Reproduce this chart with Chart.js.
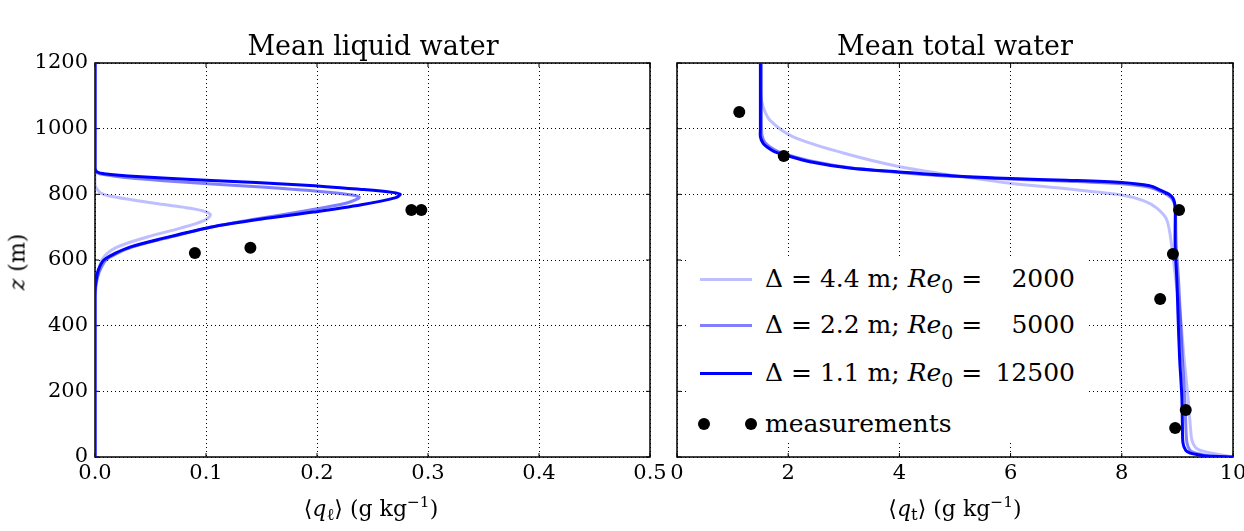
<!DOCTYPE html>
<html>
<head>
<meta charset="utf-8">
<script src="https://cdn.jsdelivr.net/npm/chart.js@4/dist/chart.umd.min.js"></script>
<style>
  body { margin: 0; background: #fff; overflow: hidden; font-family: "DejaVu Serif", serif; color: #000; }
  #wrap { position: relative; width: 1244px; height: 531px; }
  canvas { position: absolute; top: 0; }
  .txt { position: absolute; white-space: nowrap; transform: translate(-50%, -50%); }
  .title { font-size: 27px; }
  .axlab { font-size: 22px; }
  sub { font-size: 75%; vertical-align: -0.3em; line-height: 0; }
  sup { font-size: 70%; vertical-align: 0.55em; line-height: 0; }
  #legend { position: absolute; left: 688px; top: 258px; width: 398px; height: 184px; background: #fff; }
  .lrow { position: absolute; left: 0; width: 398px; height: 34px; }
  .lline { position: absolute; left: 12px; width: 52px; height: 3px; top: 16px; }
  .ldot { position: absolute; width: 12px; height: 12px; border-radius: 6px; background: #000; top: 11px; }
  .ltext { position: absolute; left: 77px; width: 310px; font-size: 25px; line-height: 34px; top: 0; }
  .lnum { position: absolute; right: 0; top: 0; }
</style>
</head>
<body>
<div id="wrap">
  <canvas id="liqChart" width="680" height="531" style="left:0"></canvas>
  <canvas id="totChart" width="590" height="531" style="left:665px"></canvas>

  <div class="txt title" style="left:373px; top:45px">Mean liquid water</div>
  <div class="txt title" style="left:955px; top:45px">Mean total water</div>
  <div class="txt axlab" style="left:17px; top:262px; transform: translate(-50%, -50%) rotate(-90deg)"><i>z</i> (m)</div>
  <div class="txt axlab" style="left:371px; top:508px">⟨<i>q</i><sub>ℓ</sub>⟩ (g kg<sup>−1</sup>)</div>
  <div class="txt axlab" style="left:955px; top:508px">⟨<i>q</i><sub>t</sub>⟩ (g kg<sup>−1</sup>)</div>
  <div id="legend"></div>
</div>

<script>
// --------------------------------------------
// Profile data
// --------------------------------------------

// series labels
var gridSpacing = ['4.4', '2.2', '1.1'];
var reynolds = ['2000', '5000', '12500'];

// tick labels
var zTicks = [0, 200, 400, 600, 800, 1000, 1200];
var qlTicks = [0.0, 0.1, 0.2, 0.3, 0.4, 0.5];
var qtTicks = [0, 2, 4, 6, 8, 10];

// mean liquid water, Delta = 4.4 m
var zl44 = [0, 480, 520, 560, 600, 636, 670, 697, 720, 737, 750, 761, 772, 783, 795, 804, 815, 830, 1200];
var ql44 = [0, 0, 0.001, 0.003, 0.006, 0.018, 0.047, 0.077, 0.098, 0.104, 0.097, 0.079, 0.055, 0.034, 0.013, 0.005, 0.002, 0, 0];
// Delta = 2.2 m
var zl22 = [0, 490, 530, 565, 600, 620, 640, 665, 700, 725, 750, 772, 787, 792, 798, 808, 822, 838, 852, 860, 866, 878, 1200];
var ql22 = [0, 0, 0.001, 0.004, 0.010, 0.020, 0.034, 0.062, 0.104, 0.145, 0.190, 0.225, 0.237, 0.238, 0.232, 0.205, 0.150, 0.075, 0.025, 0.008, 0.002, 0, 0];
// Delta = 1.1 m
var zl11 = [0, 500, 540, 570, 600, 620, 640, 665, 700, 725, 746, 768, 790, 800, 806, 815, 828, 843, 856, 862, 868, 880, 1200];
var ql11 = [0, 0, 0.001, 0.003, 0.008, 0.018, 0.032, 0.060, 0.104, 0.150, 0.197, 0.240, 0.271, 0.275, 0.268, 0.240, 0.190, 0.100, 0.030, 0.010, 0.002, 0, 0];

// mean total water, Delta = 4.4 m
var zt44 = [1200, 1100, 1066, 1026, 975, 926, 884, 857, 834, 817, 798, 780, 758, 722, 640, 540, 438, 300, 183, 100, 52, 30, 21, 12, 6, 0];
var qt44 = [1.50, 1.51, 1.55, 1.67, 2.09, 2.99, 4.01, 5.00, 5.99, 7.00, 8.00, 8.40, 8.63, 8.81, 8.90, 8.97, 9.05, 9.12, 9.19, 9.23, 9.26, 9.32, 9.40, 9.60, 9.80, 10.0];
// Delta = 2.2 m
var zt22 = [1200, 1000, 978, 958, 946, 932, 921, 900, 880, 866, 854, 846, 840, 832, 822, 810, 797, 782, 760, 700, 640, 540, 438, 300, 183, 100, 45, 22, 13, 7, 3, 0];
var qt22 = [1.52, 1.52, 1.53, 1.58, 1.66, 1.80, 1.98, 2.45, 3.15, 4.05, 5.05, 6.05, 7.05, 8.00, 8.48, 8.68, 8.83, 8.92, 8.96, 8.97, 8.98, 9.02, 9.05, 9.09, 9.13, 9.15, 9.17, 9.22, 9.30, 9.45, 9.58, 10.0];
// Delta = 1.1 m
var zt11 = [1200, 1000, 975, 955, 944, 930, 920, 899, 880, 868, 856, 848, 843, 836, 826, 813, 800, 785, 761, 700, 640, 540, 438, 300, 183, 100, 43, 20, 12, 6, 3, 0];
var qt11 = [1.50, 1.50, 1.50, 1.55, 1.62, 1.75, 1.94, 2.39, 3.10, 4.00, 5.00, 6.00, 7.00, 8.00, 8.50, 8.69, 8.85, 8.93, 8.96, 8.96, 8.96, 8.99, 9.01, 9.04, 9.08, 9.09, 9.10, 9.15, 9.23, 9.40, 9.53, 10.0];

// measurements
var zlMeas = [621, 637, 752, 752];
var qlMeas = [0.090, 0.140, 0.285, 0.294];
var ztMeas = [1051, 917, 752, 618, 481, 143, 88];
var qtMeas = [1.12, 1.92, 9.03, 8.92, 8.69, 9.15, 8.96];

// styles
var seriesColors = ['rgba(0,0,255,0.25)', 'rgba(0,0,255,0.5)', '#0000ff'];
var tickFont = { family: '"DejaVu Serif", serif', size: 21 };

function toPoints(xs, ys) {
    var pts = [];
    for (var i = 0; i < xs.length; i++) {
        pts.push({ x: xs[i], y: ys[i] });
    }
    return pts;
}

function lineSet(i, xs, ys) {
    return {
        label: 'Delta = ' + gridSpacing[i] + ' m; Re0 = ' + reynolds[i],
        data: toPoints(xs, ys),
        showLine: true,
        borderColor: seriesColors[i],
        borderWidth: 3,
        pointRadius: 0,
        tension: 0.3,
        fill: false
    };
}

function measSet(xs, ys) {
    return {
        label: 'measurements',
        data: toPoints(xs, ys),
        showLine: false,
        pointRadius: 6,
        pointBackgroundColor: '#000',
        pointBorderWidth: 0
    };
}

// full box around the plot + inward ticks
var framePlugin = {
    id: 'frame',
    beforeDatasetsDraw: function(chart) {
        var a = chart.chartArea, ctx = chart.ctx;
        var xs = chart.scales.x, ys = chart.scales.y;
        ctx.save();
        ctx.strokeStyle = '#000';
        ctx.lineWidth = 1;
        ctx.beginPath();
        for (var i = 0; i < xs.ticks.length; i++) {
            var px = xs.getPixelForValue(xs.ticks[i].value);
            ctx.moveTo(px, a.bottom); ctx.lineTo(px, a.bottom - 4);
            ctx.moveTo(px, a.top); ctx.lineTo(px, a.top + 4);
        }
        for (var j = 0; j < ys.ticks.length; j++) {
            var py = ys.getPixelForValue(ys.ticks[j].value);
            ctx.moveTo(a.left, py); ctx.lineTo(a.left + 4, py);
            ctx.moveTo(a.right, py); ctx.lineTo(a.right - 4, py);
        }
        ctx.stroke();
        ctx.lineWidth = 1.5;
        ctx.strokeRect(a.left, a.top, a.right - a.left, a.bottom - a.top);
        ctx.restore();
    }
};

function makeChart(id, datasets, xTicks, xFmt, showY, yWidth, padRight) {
    var ctx = document.getElementById(id).getContext('2d');
    return new Chart(ctx, {
        type: 'scatter',
        data: { datasets: datasets },
        plugins: [framePlugin],
        options: {
            responsive: false,
            animation: false,
            devicePixelRatio: 1,
            layout: { padding: { left: 0, right: padRight, top: 63, bottom: 0 } },
            plugins: { legend: { display: false }, tooltip: { enabled: false } },
            scales: {
                x: {
                    type: 'linear',
                    min: xTicks[0],
                    max: xTicks[xTicks.length - 1],
                    afterBuildTicks: function(s) {
                        s.ticks = xTicks.map(function(v) { return { value: v }; });
                    },
                    ticks: { font: tickFont, color: '#000', padding: 4, maxRotation: 0, autoSkip: false,
                        callback: function(v) { return xFmt(v); } },
                    grid: { color: '#000', lineWidth: 1, drawTicks: false },
                    border: { display: false, dash: [1, 3] },
                    afterFit: function(s) { s.height = 74; }
                },
                y: {
                    type: 'linear',
                    min: zTicks[0],
                    max: zTicks[zTicks.length - 1],
                    afterBuildTicks: function(s) {
                        s.ticks = zTicks.map(function(v) { return { value: v }; });
                    },
                    ticks: { display: showY, font: tickFont, color: '#000', padding: 7, autoSkip: false,
                        callback: function(v) { return String(v); } },
                    grid: { color: '#000', lineWidth: 1, drawTicks: false },
                    border: { display: false, dash: [1, 3] },
                    afterFit: function(s) { s.width = yWidth; }
                }
            }
        }
    });
}

var liqChart = makeChart('liqChart', [
    measSet(qlMeas, zlMeas),
    lineSet(2, ql11, zl11),
    lineSet(1, ql22, zl22),
    lineSet(0, ql44, zl44)
], qlTicks, function(v) { return v.toFixed(1); }, true, 95, 30);

var totChart = makeChart('totChart', [
    measSet(qtMeas, ztMeas),
    lineSet(2, qt11, zt11),
    lineSet(1, qt22, zt22),
    lineSet(0, qt44, zt44)
], qtTicks, function(v) { return String(v); }, false, 12, 22);

// Legend (drawn as html so the math styling stays real text)
function buildLegend() {
    var box = document.getElementById('legend');
    var rowTops = [4, 50, 98, 149];
    var html = '';
    for (var i = 0; i < gridSpacing.length; i++) {
        html += '<div class="lrow" style="top:' + rowTops[i] + 'px">' +
            '<div class="lline" style="background:' + seriesColors[i] + '"></div>' +
            '<div class="ltext">&Delta; = ' + gridSpacing[i] + ' m; <i>Re</i><sub>0</sub> =' +
            '<span class="lnum">' + reynolds[i] + '</span></div></div>';
    }
    html += '<div class="lrow" style="top:' + rowTops[3] + 'px">' +
        '<div class="ldot" style="left:10px"></div><div class="ldot" style="left:57px"></div>' +
        '<div class="ltext">measurements</div></div>';
    box.innerHTML = html;
}
buildLegend();
</script>
</body>
</html>
